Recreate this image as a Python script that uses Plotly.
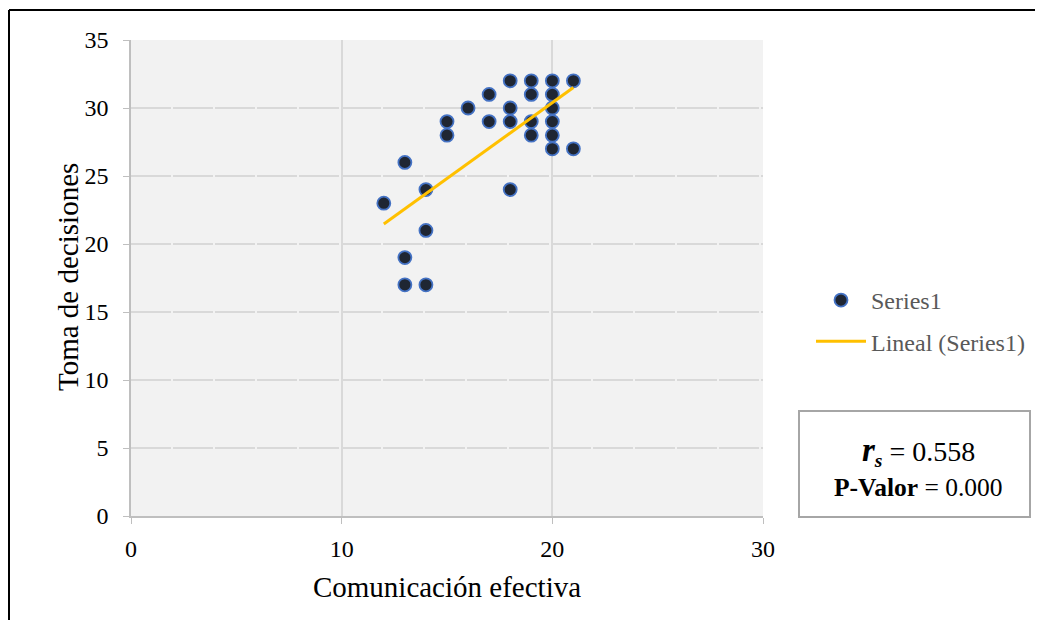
import numpy as np
import plotly.graph_objects as go

# Data (Comunicación efectiva vs Toma de decisiones)
comunicacion = [12, 13, 13, 13, 14, 14, 14, 15, 15, 16, 17, 17, 18, 18, 18, 18,
                19, 19, 19, 19, 20, 20, 20, 20, 20, 20, 21, 21]
decisiones = [23, 26, 19, 17, 24, 21, 17, 29, 28, 30, 31, 29, 32, 30, 29, 24,
              32, 31, 29, 28, 32, 31, 30, 29, 28, 27, 32, 27]
x_ticks = [0, 10, 20, 30]
y_ticks = [0, 5, 10, 15, 20, 25, 30, 35]
x_title = "Comunicación efectiva"
y_title = "Toma de decisiones"
rs_text = "0.558"
p_text = "0.000"

# the page body adds an 8px margin; lay out in screen pixels
OFF = 8
W, H = 1043 - 2 * OFF, 628 - 2 * OFF
SL, SR, ST, SB = 131, 763, 40, 516  # plot area in screen pixels

def px(sx):
    return (sx - SL) / (SR - SL)

def py(sy):
    return (SB - sy) / (SB - ST)

slope, intercept = np.polyfit(comunicacion, decisiones, 1)
xl = np.array([min(comunicacion), max(comunicacion)])
yl = slope * xl + intercept

serif = "Liberation Serif, Times New Roman, serif"

fig = go.Figure()
fig.add_trace(go.Scatter(
    x=comunicacion, y=decisiones, mode="markers", name="Series1",
    legendgroup="a",
    marker=dict(size=13, color="#1f2633", line=dict(color="#4472c4", width=1.8)),
))
fig.add_trace(go.Scatter(
    x=xl, y=yl, mode="lines", name="Lineal (Series1)",
    legendgroup="b",
    line=dict(color="#ffc000", width=3),
))

fig.update_layout(
    width=W, height=H,
    margin=dict(l=SL - OFF, r=W - (SR - OFF), t=ST - OFF, b=H - (SB - OFF),
                autoexpand=False),
    paper_bgcolor="white", plot_bgcolor="#f2f2f2",
    font=dict(family=serif, color="black", size=24),
    showlegend=True,
    legend=dict(
        x=px(811), y=py(278), xanchor="left", yanchor="top",
        font=dict(family=serif, size=24, color="#595959"),
        bgcolor="rgba(0,0,0,0)", itemwidth=50, traceorder="grouped",
        tracegroupgap=7,
    ),
    xaxis=dict(
        range=[0, 30], tickvals=x_ticks, ticks="outside", ticklen=6,
        tickcolor="#bfbfbf", showline=True, linecolor="#bfbfbf", linewidth=1.5,
        showgrid=True, gridcolor="#d9d9d9", gridwidth=1.5, zeroline=False,
        tickfont=dict(size=24), ticklabelstandoff=4,
        title=dict(text=x_title, font=dict(size=29), standoff=16),
    ),
    yaxis=dict(
        range=[0, 35], tickvals=y_ticks, ticks="outside", ticklen=6,
        tickcolor="#bfbfbf", showline=True, linecolor="#bfbfbf", linewidth=1.5,
        showgrid=True, gridcolor="#d9d9d9", gridwidth=1.5, griddash="40px,2px",
        zeroline=False, tickfont=dict(size=24), ticklabelstandoff=10,
    ),
    shapes=[
        # outer frame lines
        dict(type="line", xref="paper", yref="paper", x0=px(9), x1=px(1060),
             y0=py(10), y1=py(10), line=dict(color="black", width=2)),
        dict(type="line", xref="paper", yref="paper", x0=px(9), x1=px(9),
             y0=py(10), y1=py(640), line=dict(color="black", width=2)),
        # statistics box
        dict(type="rect", xref="paper", yref="paper", x0=px(799), x1=px(1030),
             y0=py(517), y1=py(411), line=dict(color="#a6a6a6", width=2),
             fillcolor="white", layer="below"),
    ],
    annotations=[
        dict(xref="paper", yref="paper", x=px(68), y=py(277), showarrow=False,
             xanchor="center", yanchor="middle", textangle=-90,
             text=y_title, font=dict(family=serif, size=29, color="black")),
        dict(xref="paper", yref="paper", x=px(918), y=py(451), showarrow=False,
             xanchor="center", yanchor="middle",
             text="<b><i><span style='font-size:33px'>r</span></i></b>"
                  "<sub><b><i>s</i></b></sub> = " + rs_text,
             font=dict(family=serif, size=28, color="black")),
        dict(xref="paper", yref="paper", x=px(918), y=py(487), showarrow=False,
             xanchor="center", yanchor="middle",
             text="<b>P-Valor</b> = " + p_text,
             font=dict(family=serif, size=25.5, color="black")),
    ],
)

fig.write_html("out.html")
